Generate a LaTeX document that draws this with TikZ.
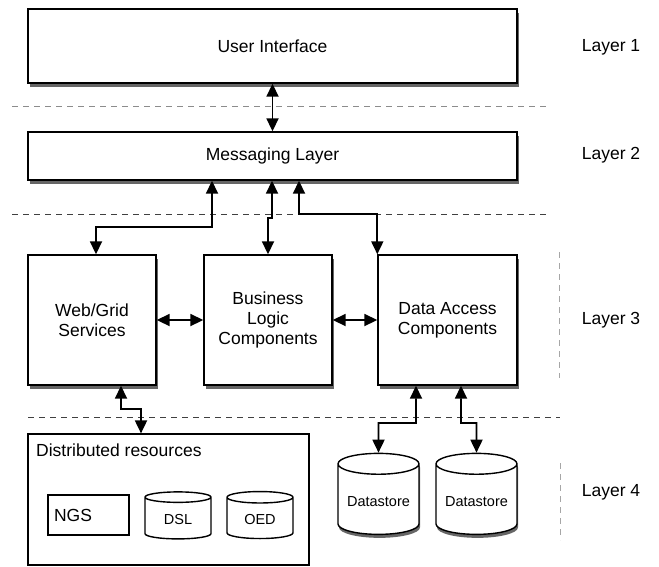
\documentclass[tikz,border=0pt]{standalone}
\usepackage{fontspec}
\setmainfont{Liberation Sans}
\usetikzlibrary{arrows.meta, positioning, shapes, shadows}
\tikzset{
    layerbox/.style={rectangle, draw=black, fill=white, line width=1.4pt, text centered, drop shadow={shadow xshift=1.5pt, shadow yshift=-4pt, fill=black!60, opacity=1}},
    plainbox/.style={rectangle, draw=black, fill=white, line width=1.2pt},
    storenode/.style={cylinder, shape border rotate=90, draw=black, fill=white, line width=1.4pt, aspect=0.3, font=\fontsize{14.5}{17}\selectfont},
    storeshadow/.style={drop shadow={shadow xshift=1pt, shadow yshift=-3.5pt, fill=black!60, opacity=1}},
    myarrow/.style={{Triangle[length=13pt,width=12pt]}-{Triangle[length=13pt,width=12pt]}, line width=1.8pt},
    mylabel/.style={font=\fontsize{17.5}{20}\selectfont},
    sepline/.style={dash pattern=on 6pt off 5pt, line width=1pt}
}

\begin{document}
\begin{tikzpicture}[x=1pt, y=-1pt, mylabel]
    \useasboundingbox (0,0) rectangle (659,566);

        % ------------------
        % nodes
        % ------------------

        \node[layerbox, minimum width=489, minimum height=74] (ui) at (272.5,46) {User Interface};
        \node[layerbox, minimum width=489, minimum height=48] (msg) at (272.5,156) {Messaging Layer};

        \node[layerbox, minimum width=128, minimum height=130, align=center] (web) at (92,320) {Web/Grid\\Services};
        \node[layerbox, minimum width=128, minimum height=130, align=center] (logic) at (268,320) {Business\\Logic\\Components};
        \node[layerbox, minimum width=139, minimum height=130, align=center] (access) at (447.5,320) {Data Access\\Components};

        \node[plainbox, minimum width=281, minimum height=131] (dist) at (168.5,499.5) {};
        \node[anchor=north west, inner sep=0pt] (distlabel) at (36,444) {Distributed resources};
        \node[plainbox, minimum width=81, minimum height=40, text width=69, align=left, inner sep=6pt] (ngs) at (88.5,515) {NGS};
        \node[storenode, minimum width=66, minimum height=47] (dsl) at (178,519.5) {DSL};
        \node[storenode, minimum width=66, minimum height=47] (oed) at (260,519.5) {OED};

        \node[storenode, storeshadow, minimum width=81, minimum height=81] (store1) at (378.5,501.5) {Datastore};
        \node[storenode, storeshadow, minimum width=81, minimum height=81] (store2) at (476.5,501.5) {Datastore};

        \node (layer1) at (611,47) {Layer 1};
        \node (layer2) at (611,155) {Layer 2};
        \node (layer3) at (611,320) {Layer 3};
        \node (layer4) at (611,492) {Layer 4};

        % ------------------
        % separators
        % ------------------

        \draw[sepline, black!45] (12,106) -- (547,106);
        \draw[sepline, black!75] (12,214) -- (547,214);
        \draw[sepline, black!75] (28,417) -- (560,417);
        \draw[sepline, black!35] (559,252) -- (559,378);
        \draw[sepline, black!35] (560,463) -- (560,540);

        % ------------------
        % arrows
        % ------------------

        \draw[myarrow] (ui.south) -- (msg.north);

        \draw[myarrow] (212,0 |- msg.south) |- (96,227) -- (96,0 |- web.north);
        \draw[myarrow] (272,0 |- msg.south) -- (272,218) -- (268,218) -- (logic.north);
        \draw[myarrow] (299,0 |- msg.south) -- (299,214) -| (access.north west);

        \draw[myarrow] (web.east) -- (logic.west);
        \draw[myarrow] (logic.east) -- (access.west);

        \draw[myarrow] (121,0 |- web.south) |- (141,409) -- (141,0 |- dist.north);
        \draw[myarrow] (416,0 |- access.south) |- (378.5,423) -- (store1.north);
        \draw[myarrow] (461,0 |- access.south) |- (476.5,423) -- (store2.north);

    \end{tikzpicture}
\end{document}
